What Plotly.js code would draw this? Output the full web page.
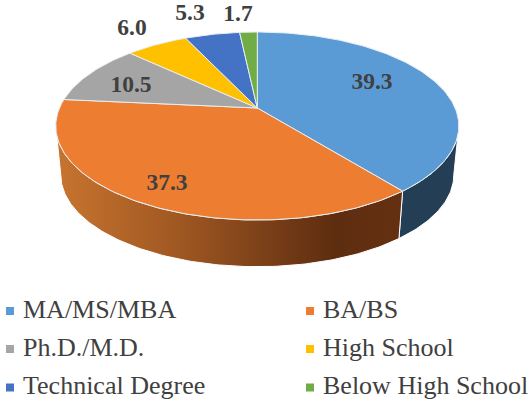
<!DOCTYPE html>
<html>
<head>
<meta charset="utf-8">
<script src="https://cdn.plot.ly/plotly-3.0.1.min.js"></script>
<style>html,body{margin:0;padding:0;background:#fff}</style>
</head>
<body>
<div id="chart" style="width:531px;height:402px"></div>
<script>
// Data
const categories = ["MA/MS/MBA","BA/BS","Ph.D./M.D.","High School","Technical Degree","Below High School"];
const values = [39.3,37.3,10.5,6.0,5.3,1.7];
const colors = ["#5B9BD5","#ED7D31","#A5A5A5","#FFC000","#4472C4","#70AD47"];

// Drawing settings: the tilted pie is a perspective projection of a circle
const apexX = 257.3, apexY = 108, radX = 197.8, radY = 90.55, persp = 0.1915;
const wallScale = 0.975, wallY = 157.5;
const labelX = [372,167,131,132,190,238];
const labelY = [83,184,86,29,14,15];
const legendX = [10,310,10,310,10,310];
const legendY = [311,311,349,349,387.5,387.5];
const textColor = "#404040", serif = "'Liberation Serif', serif";

const total = values.reduce((a,b)=>a+b,0);
function project(deg, scale, cy){
  const t = deg*Math.PI/180, w = 1+persp*Math.cos(t);
  return [apexX + scale*radX*Math.sin(t)/w, cy - scale*radY*Math.cos(t)/w];
}
function arc(from, to, scale, cy){
  const pts = [], n = Math.max(2, Math.ceil(Math.abs(to-from)));
  for(let i=0;i<=n;i++) pts.push(project(from+(to-from)*i/n, scale, cy));
  return pts;
}
const bounds = [0];
values.forEach(v=>bounds.push(bounds[bounds.length-1]+v/total*360));

// The wall is visible only between the two silhouette angles of the ellipse
const sideR = Math.acos(-persp)*180/Math.PI, sideL = 360-sideR;
const traces = [];
function wall(i, extra){
  const a = Math.max(bounds[i],sideR), b = Math.min(bounds[i+1],sideL);
  const p = arc(a,b,1,apexY).concat(arc(b,a,wallScale,wallY)); p.push(p[0]);
  traces.push(Object.assign({type:"scatter",mode:"lines",x:p.map(q=>q[0]),y:p.map(q=>q[1]),
    fill:"toself",line:{color:"#ffffff",width:1},hoverinfo:"skip",showlegend:false},extra));
}
wall(0,{fillcolor:"#243F55"});
wall(1,{fillcolor:"#A05822",fillgradient:{type:"horizontal",
  colorscale:[[0,"#C8742F"],[0.35,"#A05822"],[0.8,"#5E2D10"],[1,"#653012"]]}});
// Top faces
values.forEach((v,i)=>{
  const p = [[apexX,apexY]].concat(arc(bounds[i],bounds[i+1],1,apexY)); p.push([apexX,apexY]);
  traces.push({type:"scatter",mode:"lines",x:p.map(q=>q[0]),y:p.map(q=>q[1]),fill:"toself",
    fillcolor:colors[i],line:{color:"#E8EEF4",width:1},name:categories[i],text:v.toFixed(1),
    hoverinfo:"name+text",showlegend:false});
});
// Slice value labels
traces.push({type:"scatter",mode:"text",x:labelX,y:labelY,text:values.map(v=>v.toFixed(1)),
  textposition:"middle center",textfont:{family:serif,size:23.5,color:textColor,weight:700},
  hoverinfo:"skip",showlegend:false});
// Legend
traces.push({type:"scatter",mode:"markers",x:legendX,y:legendY,
  marker:{symbol:"square",size:8,color:colors},hoverinfo:"skip",showlegend:false});
traces.push({type:"scatter",mode:"text",x:legendX.map(x=>x+13),y:legendY,text:categories,
  textposition:"middle right",textfont:{family:serif,size:26,color:textColor},
  hoverinfo:"skip",showlegend:false,cliponaxis:false});

Plotly.newPlot("chart",traces,{
  width:531,height:402,margin:{l:0,r:0,t:0,b:0},
  paper_bgcolor:"#ffffff",plot_bgcolor:"#ffffff",showlegend:false,
  xaxis:{range:[0,531],visible:false,fixedrange:true},
  yaxis:{range:[402,0],visible:false,fixedrange:true}
},{displayModeBar:false,staticPlot:true});
</script>
</body>
</html>
